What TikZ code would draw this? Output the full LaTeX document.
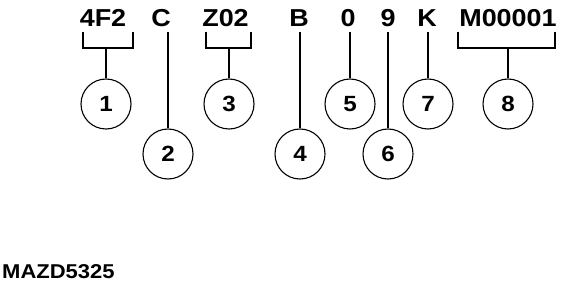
\documentclass[tikz,border=0pt]{standalone}
\usepackage{fontspec}
\setmainfont{Liberation Sans}[FakeStretch=1.1]
\begin{document}
\begin{tikzpicture}[x=1pt,y=-1pt,
  lab/.style={inner sep=0pt,anchor=base,font=\fontsize{24.5}{29}\selectfont\bfseries},
  num/.style={draw,circle,minimum size=50pt,inner sep=0pt,line width=1.1pt,font=\fontsize{22}{26}\selectfont\bfseries},
  conn/.style={line width=1.1pt}]
\useasboundingbox (0,0) rectangle (562,286);
% labels
\node[lab] (l1) at (103,27) {4F2};
\node[lab] (l2) at (161,27) {C};
\node[lab] (l3) at (225.5,27) {Z02};
\node[lab] (l4) at (299,27) {B};
\node[lab] (l5) at (348,27) {0};
\node[lab] (l6) at (388,27) {9};
\node[lab] (l7) at (427,27) {K};
\node[lab] (l8) at (508,27) {M00001};
% circles
\node[num] (c1) at (106,104) {1};
\node[num] (c2) at (168,154) {2};
\node[num] (c3) at (229,104) {3};
\node[num] (c4) at (300,154) {4};
\node[num] (c5) at (350,104) {5};
\node[num] (c6) at (388,154) {6};
\node[num] (c7) at (428,104) {7};
\node[num] (c8) at (508,104) {8};
% bracket / line tops
\coordinate (b1l) at (83,32); \coordinate (b1r) at (133,32); \coordinate (b1m) at (106,48);
\coordinate (b3l) at (206,32); \coordinate (b3r) at (251,32); \coordinate (b3m) at (229,48);
\coordinate (b8l) at (458,32); \coordinate (b8r) at (555,32); \coordinate (b8m) at (508,48);
\coordinate (t2) at (168,32);
\coordinate (t4) at (300,32);
\coordinate (t5) at (350,32);
\coordinate (t6) at (388,32);
\coordinate (t7) at (428,32);
% connectors
\draw[conn] (b1l) -- (b1l |- b1m) -- (b1r |- b1m) -- (b1r);
\draw[conn] (b1m) -- (c1.north);
\draw[conn] (b3l) -- (b3l |- b3m) -- (b3r |- b3m) -- (b3r);
\draw[conn] (b3m) -- (c3.north);
\draw[conn] (b8l) -- (b8l |- b8m) -- (b8r |- b8m) -- (b8r);
\draw[conn] (b8m) -- (c8.north);
\draw[conn] (t2) -- (c2.north);
\draw[conn] (t4) -- (c4.north);
\draw[conn] (t5) -- (c5.north);
\draw[conn] (t6) -- (c6.north);
\draw[conn] (t7) -- (c7.north);
% caption
\node[inner sep=0pt,anchor=base west,font=\fontsize{20}{24}\selectfont\bfseries] (cap) at (2,278) {MAZD5325};
\end{tikzpicture}
\end{document}
